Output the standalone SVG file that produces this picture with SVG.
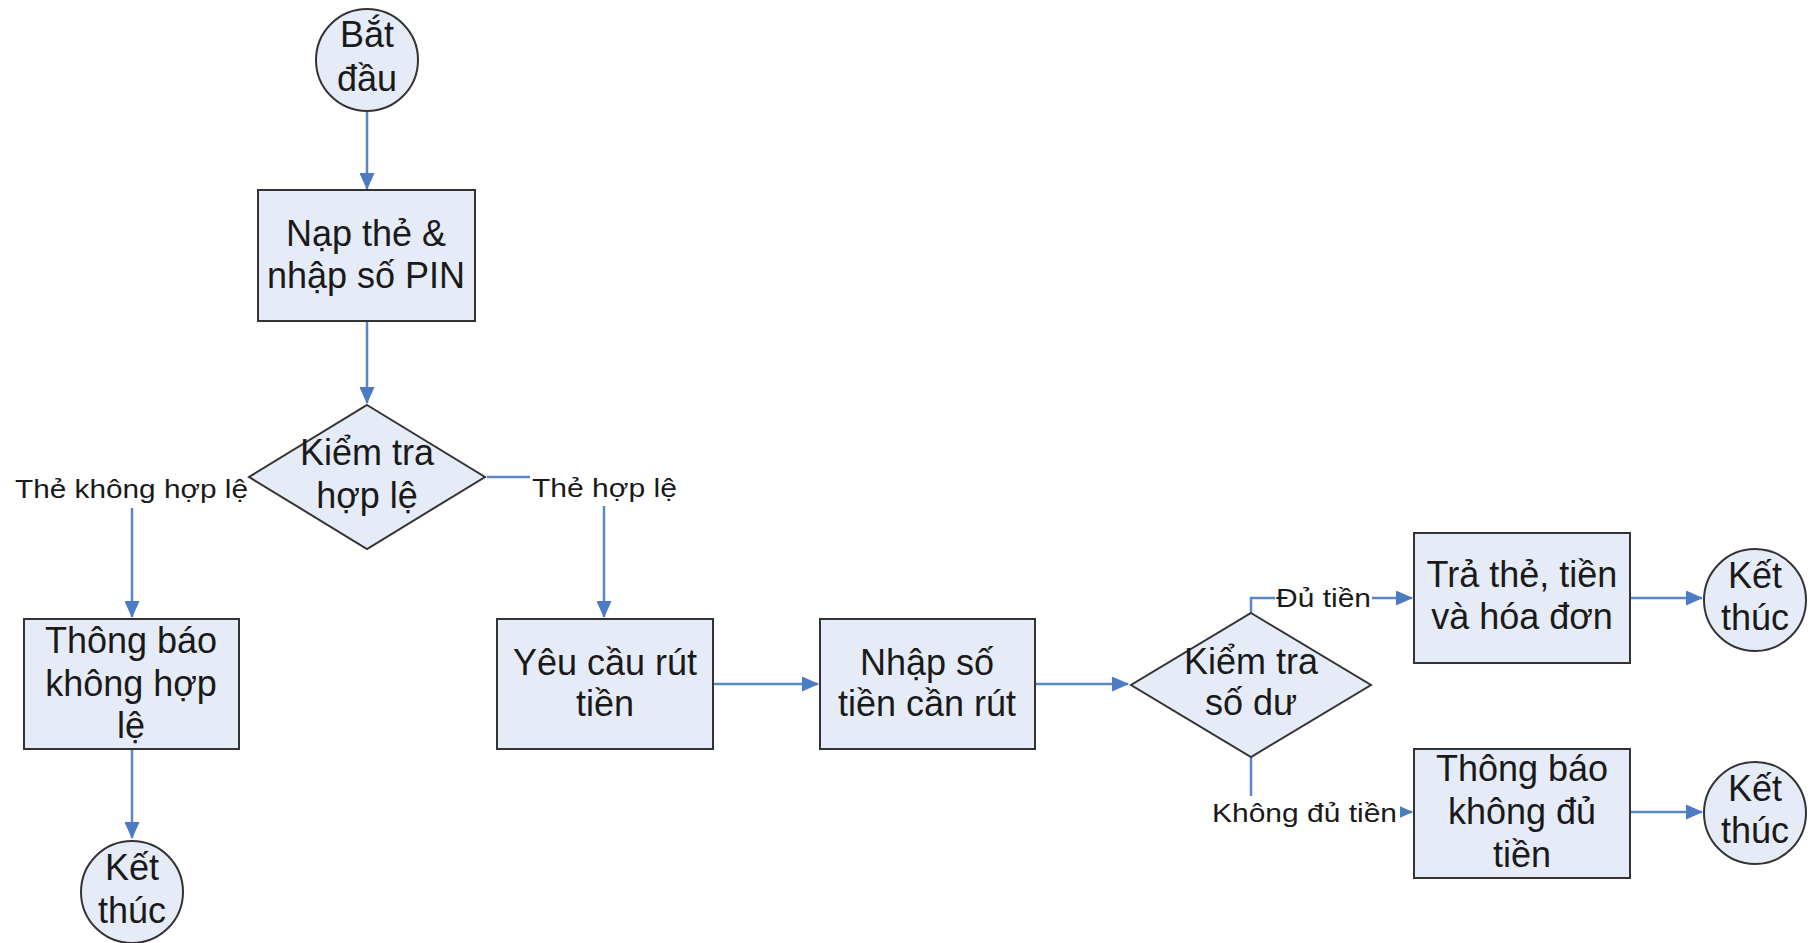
<svg xmlns="http://www.w3.org/2000/svg" width="1814" height="943" viewBox="0 0 1814 943">
<style>
.n{fill:#E6ECF7;stroke:#333;stroke-width:2}
.t{font-family:"Liberation Sans",Arial,sans-serif;font-size:36px;fill:#1a1a1a;text-anchor:middle}
.l{font-family:"Liberation Sans",Arial,sans-serif;font-size:26px;fill:#1a1a1a}
.c{fill:none;stroke:#5B87C8;stroke-width:2.5}
.bg{fill:#fff}
</style>
<defs>
<marker id="a" markerUnits="userSpaceOnUse" markerWidth="17" markerHeight="15" refX="16" refY="7.5" orient="auto">
<path d="M0,0 L17,7.5 L0,15 z" fill="#4A7BC3"/>
</marker>
</defs>
<rect width="1814" height="943" fill="#fff"/>
<g id="connectors">
<path class="c" d="M367,111 V189" marker-end="url(#a)"/>
<path class="c" d="M367,321 V403" marker-end="url(#a)"/>
<path class="c" d="M251,477 H132 V617" marker-end="url(#a)"/>
<path class="c" d="M487,477 H604 V617" marker-end="url(#a)"/>
<path class="c" d="M132,750 V838" marker-end="url(#a)"/>
<path class="c" d="M713,684 H818" marker-end="url(#a)"/>
<path class="c" d="M1035,684 H1128" marker-end="url(#a)"/>
<path class="c" d="M1251,613 V598 H1412" marker-end="url(#a)"/>
<path class="c" d="M1251,757 V812 H1412" marker-end="url(#a)"/>
<path class="c" d="M1630,598 H1702" marker-end="url(#a)"/>
<path class="c" d="M1630,812 H1702" marker-end="url(#a)"/>
<rect class="bg" x="13" y="470" width="237" height="38"/>
<text class="l" x="15" y="498" textLength="233" lengthAdjust="spacingAndGlyphs">Thẻ không hợp lệ</text>
<rect class="bg" x="530" y="470" width="149" height="36"/>
<text class="l" x="532" y="497" textLength="145" lengthAdjust="spacingAndGlyphs">Thẻ hợp lệ</text>
<rect class="bg" x="1275" y="584" width="97" height="30"/>
<text class="l" x="1276" y="607" textLength="95" lengthAdjust="spacingAndGlyphs">Đủ tiền</text>
<rect class="bg" x="1210" y="796" width="190" height="34"/>
<text class="l" x="1212" y="822" textLength="185" lengthAdjust="spacingAndGlyphs">Không đủ tiền</text>
</g>
<g id="start">
<circle class="n" cx="367" cy="60" r="51"/>
<text class="t" x="367" y="47">Bắt</text>
<text class="t" x="367" y="91">đầu</text>
</g>
<g id="input-card">
<rect class="n" x="258" y="190" width="217" height="131"/>
<text class="t" x="366" y="246">Nạp thẻ &amp;</text>
<text class="t" x="366" y="288">nhập số PIN</text>
</g>
<g id="check-valid">
<polygon class="n" points="367,405 485,477 367,549 249,477"/>
<text class="t" x="367" y="465">Kiểm tra</text>
<text class="t" x="367" y="508">hợp lệ</text>
</g>
<g id="invalid">
<rect class="n" x="24" y="619" width="215" height="130"/>
<text class="t" x="131" y="653">Thông báo</text>
<text class="t" x="131" y="696">không hợp</text>
<text class="t" x="131" y="738">lệ</text>
</g>
<g id="end1">
<circle class="n" cx="132" cy="892" r="51"/>
<text class="t" x="132" y="880">Kết</text>
<text class="t" x="132" y="923">thúc</text>
</g>
<g id="request">
<rect class="n" x="497" y="619" width="216" height="130"/>
<text class="t" x="605" y="675">Yêu cầu rút</text>
<text class="t" x="605" y="716">tiền</text>
</g>
<g id="amount">
<rect class="n" x="820" y="619" width="215" height="130"/>
<text class="t" x="927" y="675">Nhập số</text>
<text class="t" x="927" y="716">tiền cần rút</text>
</g>
<g id="check-balance">
<polygon class="n" points="1251,613 1371,685 1251,757 1131,685"/>
<text class="t" x="1251" y="674">Kiểm tra</text>
<text class="t" x="1251" y="715">số dư</text>
</g>
<g id="return">
<rect class="n" x="1414" y="533" width="216" height="130"/>
<text class="t" x="1522" y="587">Trả thẻ, tiền</text>
<text class="t" x="1522" y="629">và hóa đơn</text>
</g>
<g id="insufficient">
<rect class="n" x="1414" y="749" width="216" height="129"/>
<text class="t" x="1522" y="781">Thông báo</text>
<text class="t" x="1522" y="824">không đủ</text>
<text class="t" x="1522" y="867">tiền</text>
</g>
<g id="end2">
<circle class="n" cx="1755" cy="600" r="51"/>
<text class="t" x="1755" y="588">Kết</text>
<text class="t" x="1755" y="630">thúc</text>
</g>
<g id="end3">
<circle class="n" cx="1755" cy="813" r="51"/>
<text class="t" x="1755" y="801">Kết</text>
<text class="t" x="1755" y="843">thúc</text>
</g>
</svg>
